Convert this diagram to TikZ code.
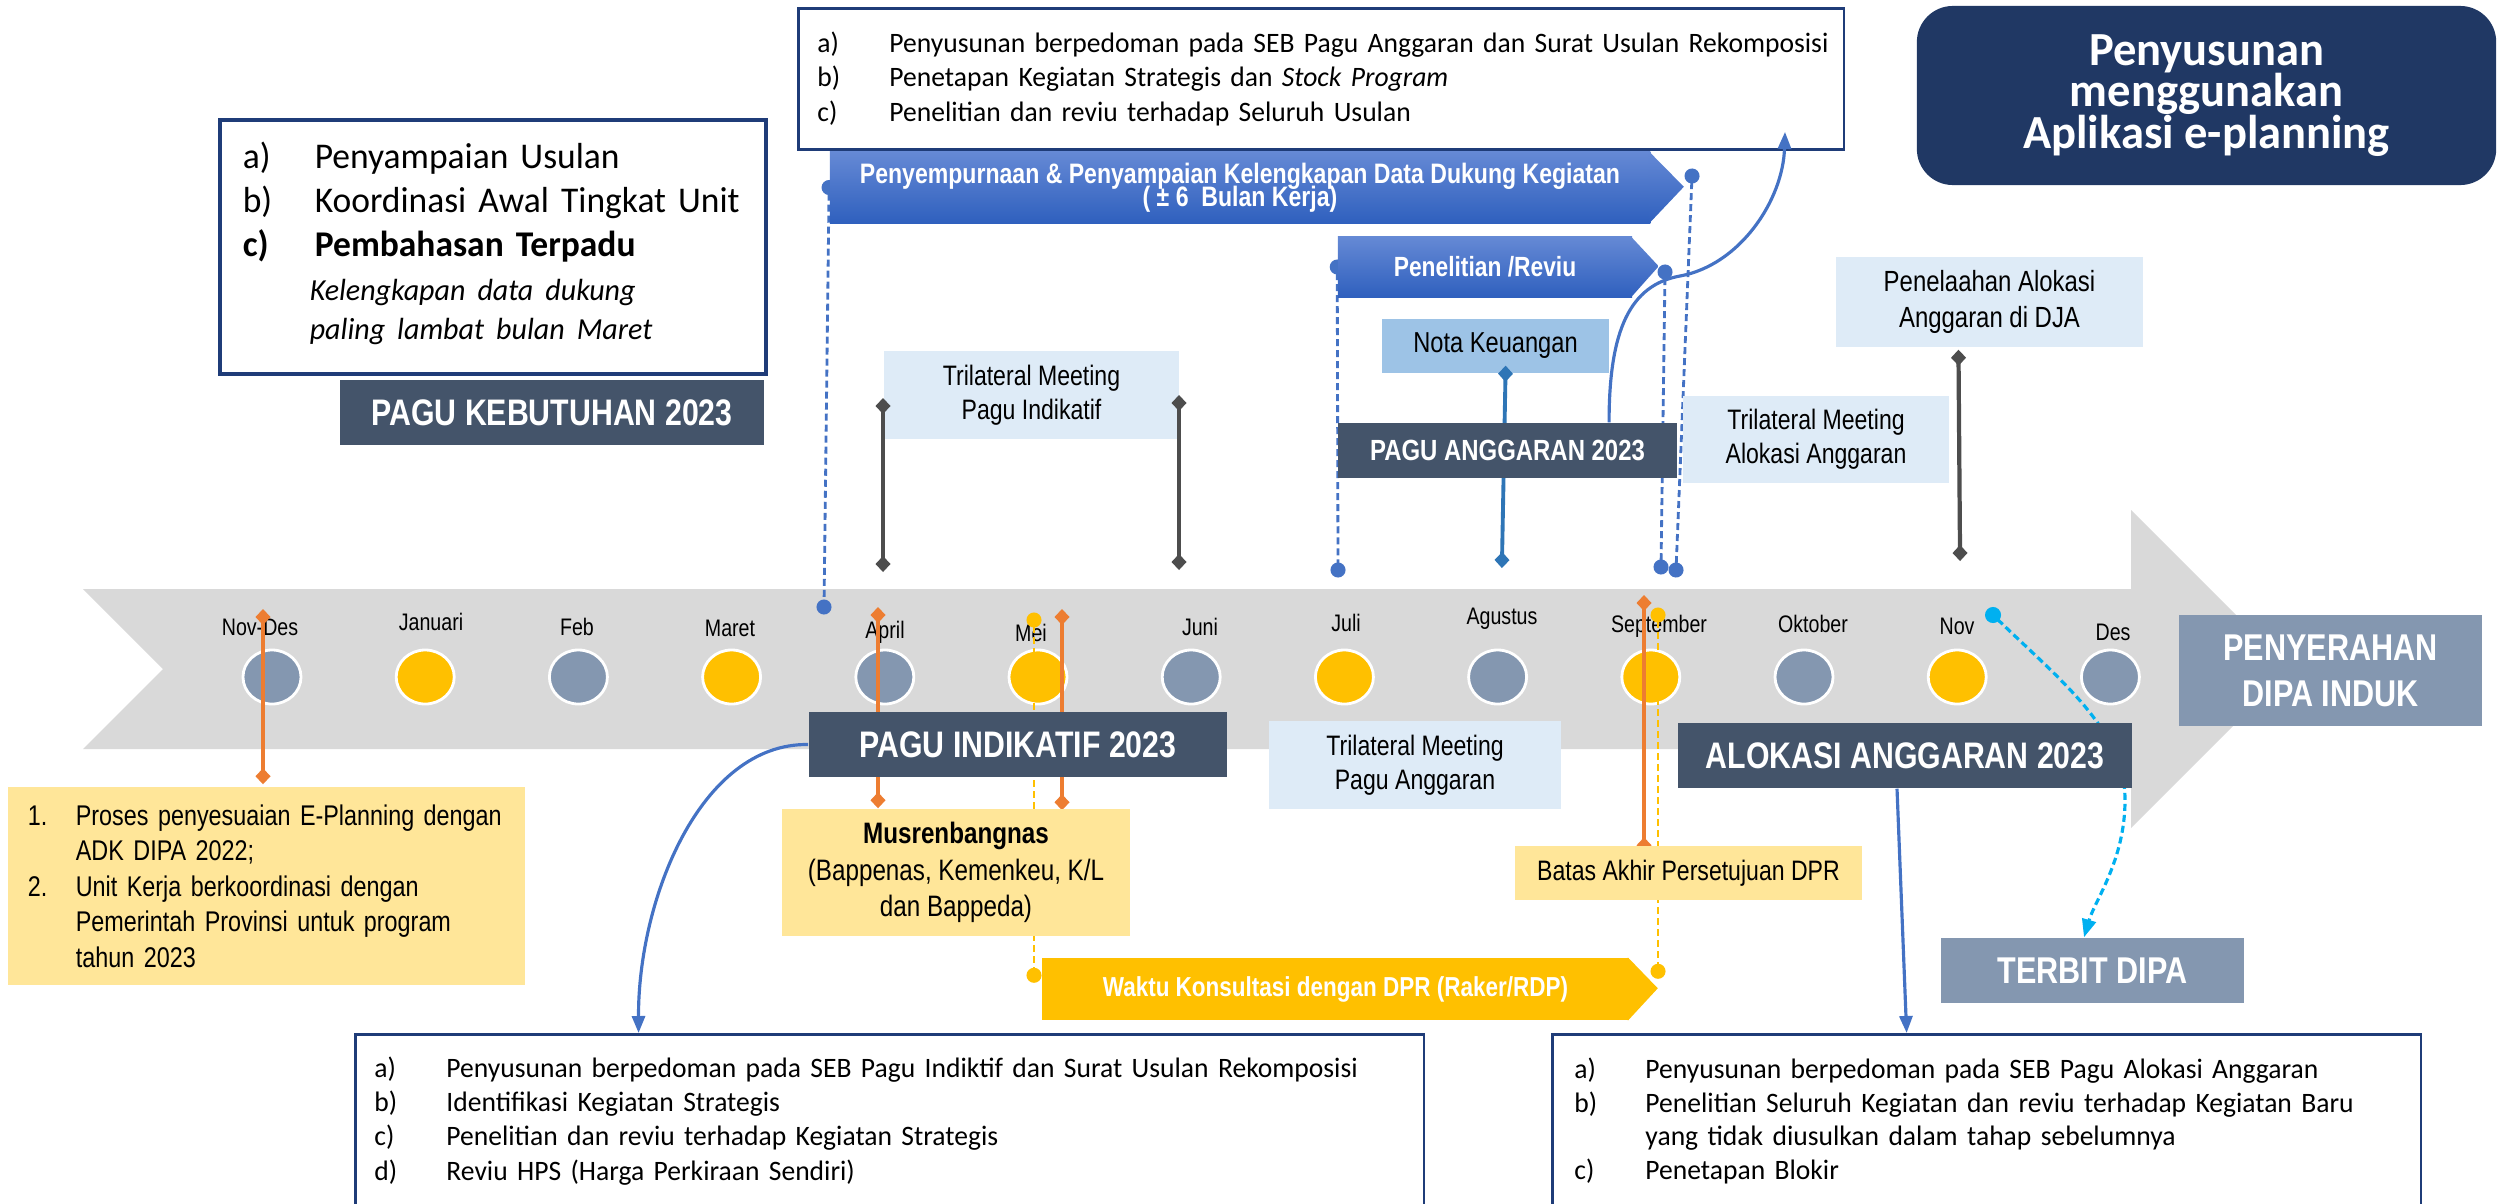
\documentclass[tikz,border=0pt]{standalone}
\usepackage{fontspec}
\setmainfont{Liberation Sans}[FakeStretch=0.82]
\newfontfamily\calibri{Carlito}[FakeStretch=0.98]
\usetikzlibrary{arrows.meta,shapes.geometric,calc}
\pgfdeclarelayer{bg}
\pgfdeclarelayer{lines}
\pgfdeclarelayer{front}
\pgfsetlayers{bg,lines,main,front}
\definecolor{band}{HTML}{D9D9D9}
\definecolor{slate}{HTML}{44546A}
\definecolor{steel}{HTML}{8497B0}
\definecolor{gold}{HTML}{FFC000}
\definecolor{sand}{HTML}{FFE699}
\definecolor{pale}{HTML}{DEEBF7}
\definecolor{sky}{HTML}{9DC3E6}
\definecolor{navy}{HTML}{203864}
\definecolor{frame}{HTML}{1F3C78}
\definecolor{royal}{HTML}{4472C4}
\definecolor{ocean}{HTML}{2E75B6}
\definecolor{tang}{HTML}{ED7D31}
\definecolor{ink}{HTML}{4D4D4D}
\definecolor{cyanl}{HTML}{00B0F0}
\definecolor{gradtop}{HTML}{6589D5}
\definecolor{gradbot}{HTML}{2F60BE}
\newcommand{\itemlab}[2][0.72cm]{\makebox[#1][l]{#2}}
\newcommand{\tightskip}{\lineskiplimit=-10pt\relax}
\tikzset{
	month dot/.style={ellipse, draw=white, line width=0.8pt, minimum width=0.58cm, minimum height=0.54cm, inner sep=0},
	month text/.style={anchor=base, inner sep=0, font=\fontsize{6.8}{8}\selectfont},
	slate box/.style={fill=slate, text=white, inner sep=0, font=\bfseries\fontsize{10.5}{12}\selectfont},
	steel box/.style={fill=steel, text=white, inner sep=0, align=center, font=\bfseries\fontsize{10.6}{13.1}\selectfont},
	pale box/.style={fill=pale, inner sep=0, align=center, font=\fontsize{8}{9.7}\selectfont},
	sand box/.style={fill=sand, inner sep=0},
	list box/.style={draw=frame, line width=0.8pt, fill=white, anchor=north west, inner ysep=0, align=left, font=\calibri\fontsize{8}{9.7}\selectfont},
	blue fill/.style={top color=gradtop, bottom color=gradbot},
	blue body/.style={blue fill, text=white, inner sep=0, align=center},
	orange link/.style={draw=tang, line width=0.9pt, shorten <=-0.08cm, shorten >=-0.08cm, arrows={Diamond[length=0.16cm,width=0.15cm]-Diamond[length=0.16cm,width=0.15cm]}},
	ink link/.style={orange link, draw=ink, line width=1.2pt},
	ocean link/.style={orange link, draw=ocean, line width=1.1pt},
	blue dash/.style={draw=royal, line width=0.8pt, dash pattern=on 0.07cm off 0.04cm, shorten <=-0.075cm, shorten >=-0.075cm, arrows={Circle[length=0.15cm]-Circle[length=0.15cm]}},
	gold dash/.style={blue dash, draw=gold},
	cyan dash/.style={draw=cyanl, line width=0.9pt, dash pattern=on 0.07cm off 0.04cm, shorten <=-0.08cm, arrows={Circle[length=0.16cm]-Triangle[length=0.18cm,width=0.14cm]}},
	blue link/.style={draw=royal, line width=0.9pt, arrows={-Triangle[length=0.17cm,width=0.13cm]}},
}

\begin{document}
\begin{tikzpicture}[x=0.01cm, y=-0.01cm]
	\useasboundingbox (0,0) rectangle (2501,1203);
	\clip (0,0) rectangle (2501,1203);

	\begin{pgfonlayer}{bg}
		\fill[band] (83,589) -- (2131,589) -- (2131,510) -- (2290,669) -- (2131,828) -- (2131,749) -- (83,749) -- (163,669) -- cycle;
		\foreach \i in {0,2,...,12}
			\node[month dot, fill=steel] (mo\i) at ({272+153.2*\i},677) {};
		\foreach \i in {1,3,...,11}
			\node[month dot, fill=gold] (mo\i) at ({272+153.2*\i},677) {};
		\foreach \m/\x/\y [count=\k] in {Nov-Des/260/635, Januari/431/630, Feb/577/635, Maret/730/636, April/885/638, Mei/1031/641, Juni/1200/635, Juli/1346/631, Agustus/1502/624, September/1659/632, Oktober/1813/632, Nov/1957/634, Des/2113/640}
			\node[month text] (lab\k) at (\x,\y) {\m};
	\end{pgfonlayer}

	\coordinate (ndTop) at (263,617);
	\coordinate (aprTop) at (878,615);
	\coordinate (meiTop) at (1062,617);
	\coordinate (sepTop) at (1644,603);
	\coordinate (meiDot) at (1034,620);
	\coordinate (sepDot) at (1658,615);
	\coordinate (pyBot) at (824,607);
	\coordinate (pyTip) at (1692,176);
	\coordinate (pyTipB) at (1676,570);
	\coordinate (penBot) at (1338,570);
	\coordinate (penTip) at (1665,272);
	\coordinate (penTipB) at (1661,567);
	\coordinate (novDot) at (1993,615);
	\coordinate (tmL) at (883,406);
	\coordinate (tmLb) at (883,564);
	\coordinate (tmR) at (1179,403);
	\coordinate (tmRb) at (1179,562);
	\coordinate (djaBot) at (1960,553);
	\coordinate (notaBot) at (1502,560);

	\node[list box, line width=1pt, minimum width=5.46cm, minimum height=2.54cm, text width=5.0cm, inner xsep=0.23cm, font=\calibri\fontsize{10.3}{12.5}\selectfont] (usul) at (218,118)
		{\itemlab{a)}Penyampaian Usulan\\
		\itemlab{b)}\mbox{Koordinasi Awal Tingkat Unit}\\
		\textbf{\itemlab{c)}Pembahasan Terpadu}\\
		\hspace*{0.67cm}{\itshape\fontsize{8.7}{12.5}\selectfont Kelengkapan data dukung}\\[-1.5pt]
		\hspace*{0.67cm}{\itshape\fontsize{8.7}{12.5}\selectfont paling lambat bulan Maret}\\[-9pt]\mbox{}};
	\node[slate box, minimum width=4.24cm, minimum height=0.65cm] (kebut) at (552,412.5) {PAGU KEBUTUHAN 2023};

	\node[list box, minimum width=10.45cm, minimum height=1.41cm, text width=10.07cm, inner xsep=0.19cm] (tcbox) at (797,7)
		{\itemlab{a)}\mbox{Penyusunan berpedoman pada SEB Pagu Anggaran dan Surat Usulan Rekomposisi}\\
		\itemlab{b)}Penetapan Kegiatan Strategis dan \textit{Stock Program}\\
		\itemlab{c)}Penelitian dan reviu terhadap Seluruh Usulan};
	\node[fill=navy, rounded corners=0.36cm, minimum width=5.79cm, minimum height=1.79cm, inner sep=0, text=white, align=center, font={\calibri\bfseries\fontsize{13.5}{11.9}\selectfont\tightskip}] (eplan) at (2206.5,95.5)
		{Penyusunan\\menggunakan\\Aplikasi e-planning};

	\node[blue body, minimum width=8.20cm, minimum height=0.71cm, font={\bfseries\fontsize{8}{6.6}\selectfont\tightskip}] (penyem) at (1240,187.5)
		{Penyempurnaan \& Penyampaian Kelengkapan Data Dukung Kegiatan\\( ± 6\ \ Bulan Kerja)};
	\path[blue fill] ([xshift=-0.6pt]penyem.north east) -- ++(35,35.5) -- ([xshift=-0.6pt]penyem.south east) -- cycle;
	\node[blue body, minimum width=2.94cm, minimum height=0.60cm, font=\bfseries\fontsize{7.9}{9.5}\selectfont] (pen) at (1485,267) {Penelitian /Reviu};
	\path[blue fill] ([xshift=-0.6pt]pen.north east) -- ++(28,30) -- ([xshift=-0.6pt]pen.south east) -- cycle;

	\node[pale box, fill=sky, minimum width=2.27cm, minimum height=0.54cm, font=\fontsize{8.2}{10}\selectfont] (nota) at (1495.5,346) {Nota Keuangan};
	\node[pale box, minimum width=2.95cm, minimum height=0.88cm] (trpi) at (1031.5,395) {Trilateral Meeting\\Pagu Indikatif};
	\node[pale box, minimum width=2.66cm, minimum height=0.87cm] (tral) at (1816,439.5) {Trilateral Meeting\\Alokasi Anggaran};
	\node[pale box, minimum width=3.07cm, minimum height=0.90cm, font=\fontsize{8.3}{10}\selectfont] (dja) at (1989.5,302) {Penelaahan Alokasi\\Anggaran di DJA};
	\node[pale box, minimum width=2.92cm, minimum height=0.88cm] (trpa) at (1415,765) {Trilateral Meeting\\Pagu Anggaran};

	\node[slate box, minimum width=4.18cm, minimum height=0.65cm] (indik) at (1018,744.5) {PAGU INDIKATIF 2023};
	\node[slate box, minimum width=4.54cm, minimum height=0.65cm] (alok) at (1905,755.5) {ALOKASI ANGGARAN 2023};
	\node[steel box, minimum width=3.03cm, minimum height=1.11cm] (serah) at (2330.5,670.5) {PENYERAHAN\\DIPA INDUK};
	\node[steel box, minimum width=3.03cm, minimum height=0.65cm] (terbit) at (2092.5,970.5) {TERBIT DIPA};

	\node[sand box, minimum width=5.17cm, minimum height=1.98cm, text width=4.77cm, inner xsep=0.2cm, align=left, font=\fontsize{8.1}{10.1}\selectfont] (pemda) at (266.5,886)
		{\itemlab[0.48cm]{1.}\mbox{Proses penyesuaian E-Planning dengan}\\
		\hspace*{0.48cm}ADK DIPA 2022;\\
		\itemlab[0.48cm]{2.}\mbox{Unit Kerja berkoordinasi dengan}\\
		\hspace*{0.48cm}\mbox{Pemerintah Provinsi untuk program}\\
		\hspace*{0.48cm}tahun 2023};
	\node[sand box, minimum width=3.48cm, minimum height=1.27cm, align=center, font=\fontsize{8.4}{10.4}\selectfont] (musren) at (956,872.5)
		{\textbf{Musrenbangnas}\\(Bappenas, Kemenkeu, K/L\\dan Bappeda)};
	\node[sand box, minimum width=3.47cm, minimum height=0.54cm, font=\fontsize{8}{10}\selectfont] (batas) at (1688.5,873) {Batas Akhir Persetujuan DPR};
	\node[fill=gold, text=white, inner sep=0, minimum width=5.87cm, minimum height=0.62cm, font=\bfseries\fontsize{7.8}{9.5}\selectfont] (waktu) at (1335.5,989) {Waktu Konsultasi dengan DPR (Raker/RDP)};
	\path[fill=gold] ([xshift=-0.6pt]waktu.north east) -- ++(30,31) -- ([xshift=-0.6pt]waktu.south east) -- cycle;

	\node[list box, minimum width=10.68cm, minimum height=1.73cm, text width=10.30cm, inner xsep=0.19cm] (blbox) at (354,1033)
		{\itemlab{a)}\mbox{Penyusunan berpedoman pada SEB Pagu Indiktif dan Surat Usulan Rekomposisi}\\
		\itemlab{b)}Identifikasi Kegiatan Strategis\\
		\itemlab{c)}Penelitian dan reviu terhadap Kegiatan Strategis\\
		\itemlab{d)}Reviu HPS (Harga Perkiraan Sendiri)};
	\node[list box, minimum width=8.68cm, minimum height=1.73cm, text width=8.24cm, inner xsep=0.22cm, font=\calibri\fontsize{8}{9.5}\selectfont] (akbox) at (1551,1033)
		{\itemlab[0.71cm]{a)}Penyusunan berpedoman pada SEB Pagu Alokasi Anggaran\\
		\itemlab[0.71cm]{b)}\mbox{Penelitian Seluruh Kegiatan dan reviu terhadap Kegiatan Baru}\\
		\hspace*{0.71cm}yang tidak diusulkan dalam tahap sebelumnya\\
		\itemlab[0.71cm]{c)}Penetapan Blokir};

	\begin{pgfonlayer}{lines}
		\draw[orange link] (ndTop) -- ($(ndTop |- pemda.north)+(0,-10)$);
		\draw[orange link] (aprTop) -- ($(aprTop |- musren.north)+(0,-8)$);
		\draw[orange link] (meiTop) -- ($(meiTop |- musren.north)+(0,-6)$);
		\draw[orange link] (sepTop) -- (sepTop |- batas.north);
		\draw[gold dash] (meiDot) -- ($(meiDot |- waktu.north)+(0,18)$);
		\draw[gold dash] (sepDot) -- ($(sepDot |- waktu.north)+(0,14)$);
		\draw[blue dash] (penyem.west) -- (pyBot);
		\draw[blue dash] (pyTip) -- (pyTipB);
		\draw[blue dash] (pen.west) -- (penBot);
		\draw[blue dash] (penTip) -- (penTipB);
		\draw[cyan dash] (novDot) .. controls (2060,680) and (2125,730) .. (2125,800) .. controls (2125,860) and (2095,900) .. ([xshift=-0.085cm]terbit.north);
		\draw[blue link] (indik.west) .. controls (700,743) and (638,900) .. ([xshift=-2.51cm]blbox.north);
		\draw[blue link] ([xshift=-0.08cm]alok.south) -- ([xshift=-0.80cm]akbox.north);
	\end{pgfonlayer}

	\begin{pgfonlayer}{front}
		\draw[ink link] (tmL) -- (tmLb);
		\draw[ink link] (tmR) -- (tmRb);
		\draw[ink link] ($(dja.south)+(-31,10)$) -- (djaBot);
		\draw[ocean link] ($(nota.south)+(10,0)$) -- (notaBot);
		\node[slate box, minimum width=3.39cm, minimum height=0.55cm, font=\bfseries\fontsize{8.3}{10}\selectfont] (angg) at (1507.5,450.5) {PAGU ANGGARAN 2023};
		\draw[blue link] ([xshift=1.015cm]angg.north) .. controls (1609,330) and (1630,285) .. (1680,276) .. controls (1740,265) and (1783,200) .. ([xshift=4.635cm,yshift=0.19cm]tcbox.south);
	\end{pgfonlayer}
\end{tikzpicture}
\end{document}
